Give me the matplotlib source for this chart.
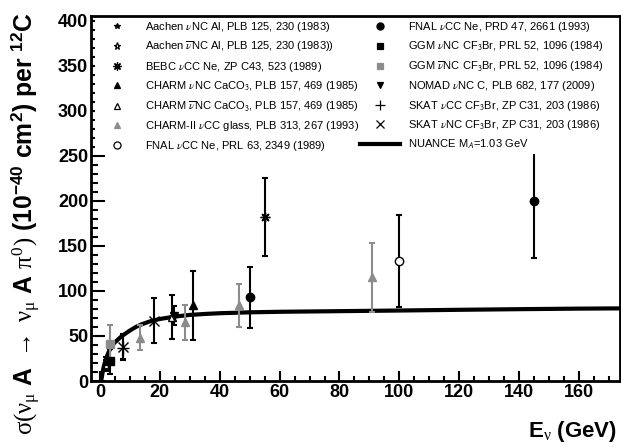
import matplotlib
matplotlib.use("Agg")
import matplotlib.pyplot as plt
from matplotlib.lines import Line2D
from matplotlib.ticker import MultipleLocator
from matplotlib.font_manager import FontProperties

plt.rcParams['font.family'] = ['Liberation Sans', 'DejaVu Sans']
plt.rcParams['mathtext.fontset'] = 'custom'
plt.rcParams['mathtext.rm'] = 'Liberation Sans:bold'
plt.rcParams['mathtext.bf'] = 'Liberation Sans:bold'
plt.rcParams['mathtext.it'] = 'Liberation Serif'
plt.rcParams['mathtext.cal'] = 'Liberation Serif'
plt.rcParams['mathtext.sf'] = 'Liberation Sans'

# ---------------- data ----------------
aachen_nu_E = [2.0];  aachen_nu_s = [20.0];  aachen_nu_err = [7.0]
aachen_nub_E = [2.0]; aachen_nub_s = [17.0]; aachen_nub_err = [6.0]
bebc_E = [55.0];      bebc_s = [182.0];      bebc_err = [43.0]
charm_nu_E = [31.0];  charm_nu_s = [84.0];   charm_nu_err = [38.0]
charm_nub_E = [24.0]; charm_nub_s = [71.0];  charm_nub_err = [24.0]
charm2_E = [13.5, 28.5, 46.5, 91.0]
charm2_s = [48.0, 65.0, 84.0, 115.0]
charm2_err = [14.0, 19.0, 24.0, 38.0]
fnal63_E = [100.0];   fnal63_s = [133.0];    fnal63_err = [51.0]
fnal47_E = [50.0, 145.0]; fnal47_s = [93.0, 200.0]; fnal47_err = [34.0, 63.0]
ggm_nu_E = [3.3];     ggm_nu_s = [22.0];     ggm_nu_err = [14.0]
ggm_nub_E = [3.3];    ggm_nub_s = [41.0];    ggm_nub_err = [21.0]
nomad_E = [24.8];     nomad_s = [72.6];      nomad_err = [10.6]
skat_cc_E = [7.6];    skat_cc_s = [37.0];    skat_cc_err = [14.0]
skat_nc_E = [7.6, 18.0]; skat_nc_s = [38.0, 67.0]; skat_nc_err = [14.0, 25.0]

nuance_E = [0.4, 0.7, 1.0, 1.5, 2.0, 2.5, 3.0, 4.0, 5.0, 6.0, 7.0, 8.0, 10.0, 12.0,
            14.0, 17.0, 20.0, 25.0, 30.0, 35.0, 40.0, 50.0, 60.0, 80.0, 100.0, 120.0,
            140.0, 160.0, 175.0]
nuance_s = [0.0, 6.0, 12.0, 19.0, 24.0, 29.0, 33.0, 39.0, 43.0, 46.0, 49.0, 51.5, 56.0,
            60.0, 63.0, 66.5, 68.8, 71.5, 73.3, 74.4, 75.2, 76.2, 76.8, 77.5, 78.2, 79.0,
            79.7, 80.3, 80.6]

xticks = [0, 20, 40, 60, 80, 100, 120, 140, 160]
yticks = [0, 50, 100, 150, 200, 250, 300, 350, 400]

GRAY = '#8c8c8c'
W, H = 621, 447
fig = plt.figure(figsize=(W / 100, H / 100), dpi=100)
ax = fig.add_axes([91 / W, 1 - 381 / H, (620 - 91) / W, (381 - 16) / H])

series = [
    # label, E, s, err, marker, color, facecolor, size
    (r"Aachen $\nu$NC Al, PLB 125, 230 (1983)", aachen_nu_E, aachen_nu_s, aachen_nu_err, '*', 'k', 'k', 5),
    (r"Aachen $\overline{\nu}$NC Al, PLB 125, 230 (1983))", aachen_nub_E, aachen_nub_s, aachen_nub_err, '*', 'k', 'white', 6),
    (r"BEBC $\nu$CC Ne, ZP C43, 523 (1989)", bebc_E, bebc_s, bebc_err, (8, 2, 0), 'k', 'k', 7),
    (r"CHARM $\nu$NC CaCO$_\mathsf{3}$, PLB 157, 469 (1985)", charm_nu_E, charm_nu_s, charm_nu_err, '^', 'k', 'k', 5.5),
    (r"CHARM $\overline{\nu}$NC CaCO$_\mathsf{3}$, PLB 157, 469 (1985)", charm_nub_E, charm_nub_s, charm_nub_err, '^', 'k', 'white', 5.5),
    (r"CHARM-II $\nu$CC glass, PLB 313, 267 (1993)", charm2_E, charm2_s, charm2_err, '^', GRAY, GRAY, 5.5),
    (r"FNAL $\nu$CC Ne, PRL 63, 2349 (1989)", fnal63_E, fnal63_s, fnal63_err, 'o', 'k', 'white', 6),
    (r"FNAL $\nu$CC Ne, PRD 47, 2661 (1993)", fnal47_E, fnal47_s, fnal47_err, 'o', 'k', 'k', 6),
    (r"GGM $\nu$NC CF$_\mathsf{3}$Br, PRL 52, 1096 (1984)", ggm_nu_E, ggm_nu_s, ggm_nu_err, 's', 'k', 'k', 5.5),
    (r"GGM $\overline{\nu}$NC CF$_\mathsf{3}$Br, PRL 52, 1096 (1984)", ggm_nub_E, ggm_nub_s, ggm_nub_err, 's', GRAY, GRAY, 5.5),
    (r"NOMAD $\nu$NC C, PLB 682, 177 (2009)", nomad_E, nomad_s, nomad_err, 'v', 'k', 'k', 5.5),
    (r"SKAT $\nu$CC CF$_\mathsf{3}$Br, ZP C31, 203 (1986)", skat_cc_E, skat_cc_s, skat_cc_err, '+', 'k', 'k', 8),
    (r"SKAT $\nu$NC CF$_\mathsf{3}$Br, ZP C31, 203 (1986)", skat_nc_E, skat_nc_s, skat_nc_err, 'x', 'k', 'k', 7),
]

ax.plot(nuance_E, nuance_s, color='k', lw=3.0, zorder=3, solid_capstyle='butt')

handles = []
labels = []
for lab, E, s, err, mk, col, fc, ms in series:
    ax.errorbar(E, s, yerr=err, fmt='none', ecolor=col, elinewidth=1.5,
                capsize=2.2, capthick=1.5, zorder=4)
    ax.plot(E, s, linestyle='none', marker=mk, markersize=ms, markeredgecolor=col,
            markerfacecolor=fc, markeredgewidth=1.0, zorder=5)
    handles.append(Line2D([], [], linestyle='none', marker=mk, markersize=ms * 0.85,
                          markeredgecolor=col, markerfacecolor=fc, markeredgewidth=0.9))
    labels.append(lab)
handles.append(Line2D([], [], color='k', lw=3.0))
labels.append(r"NUANCE M$_\mathsf{A}$=1.03 GeV")

ax.set_xlim(-3, 173.7)
ax.set_ylim(0, 405)
ax.set_xticks(xticks)
ax.set_yticks(yticks)
ax.xaxis.set_minor_locator(MultipleLocator(5))
ax.yaxis.set_minor_locator(MultipleLocator(10))
ax.tick_params(axis='both', which='both', direction='in', top=False, right=False,
               width=1.5, labelsize=13, pad=2)
ax.tick_params(axis='y', which='major', length=10)
ax.tick_params(axis='y', which='minor', length=5)
ax.tick_params(axis='x', which='major', length=7.5)
ax.tick_params(axis='x', which='minor', length=3.5)
for lbl in ax.get_xticklabels() + ax.get_yticklabels():
    lbl.set_fontweight('bold')
for sp in ax.spines.values():
    sp.set_linewidth(2.0)
    sp.set_zorder(7)

legprop = FontProperties(family='Liberation Sans', size=8, math_fontfamily='stix')
leg = ax.legend(handles, labels, ncol=2, loc='upper left', bbox_to_anchor=(0.008, 0.994),
                prop=legprop, frameon=True, fancybox=False, edgecolor='none',
                facecolor='white', framealpha=1.0, borderpad=0.15, borderaxespad=0,
                handlelength=3.6, handletextpad=0.7, labelspacing=0.5,
                columnspacing=0.1)
leg.set_zorder(6)

fig.text(617 / W, 1 - 431 / H, r"E$_\mathcal{\nu}$ (GeV)", ha='right', va='center',
         fontsize=16, fontweight='bold')
fig.text(26 / W, 0.5,
         r"$\sigma\mathcal{(}\nu_{\mu}$ A $\mathcal{\rightarrow}$ $\nu_{\mu}$ A $\pi^{\mathcal{0}}\mathcal{)}$ (10$^{\mathbf{-40}}$ cm$^{\mathbf{2}}$) per $^{\mathbf{12}}$C",
         rotation=90, ha='center', va='center', fontsize=17.8, fontweight='bold')

fig.savefig('out.png', dpi=100)
